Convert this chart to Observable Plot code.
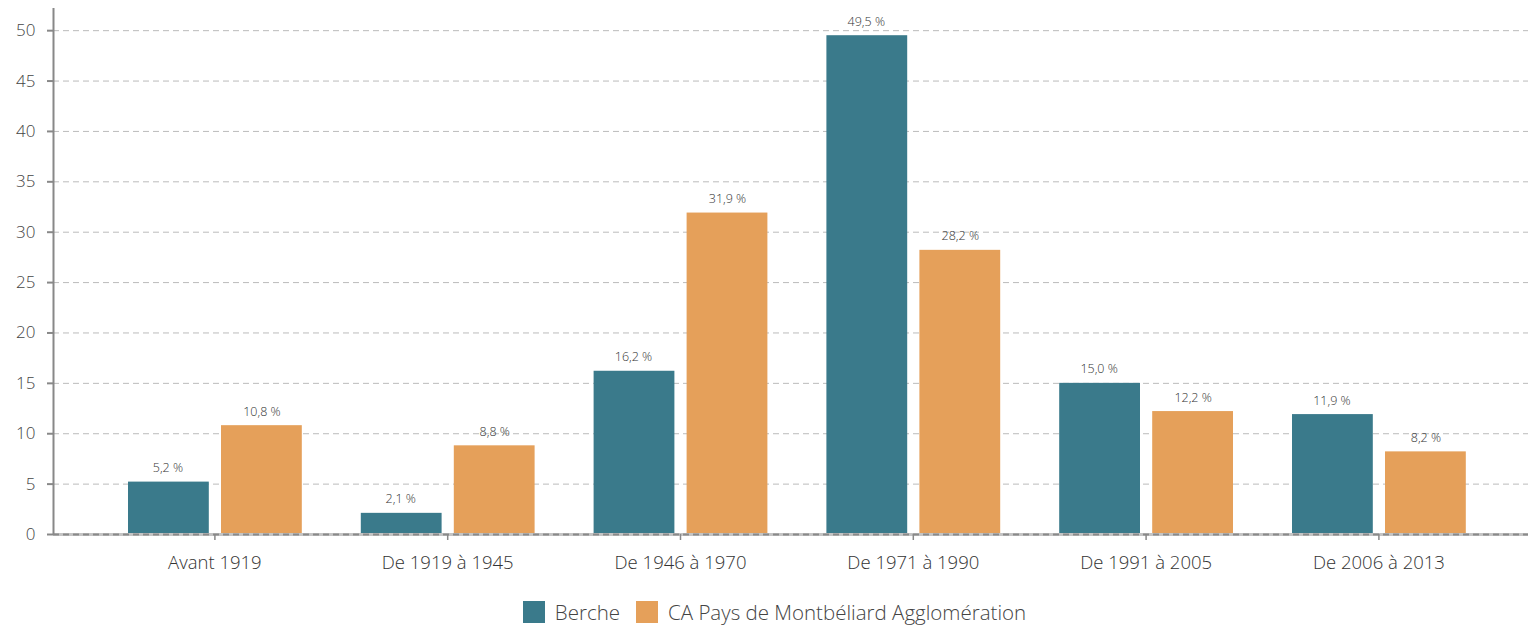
<!DOCTYPE html>
<html><head><meta charset="utf-8">
<script src="https://cdn.jsdelivr.net/npm/d3@7"></script>
<script src="https://cdn.jsdelivr.net/npm/@observablehq/plot@0.6"></script>
<style>
body{margin:0;background:#fff;font-family:"Open Sans",sans-serif;}
#legend{display:flex;justify-content:center;align-items:center;height:44px;margin-top:10px;padding-left:21px;font-size:20.5px;line-height:1.1;color:#444;font-weight:300;}
.sw{display:inline-block;width:22px;height:22px;margin-right:10px;}
.item{display:flex;align-items:center;margin:0 8px;}
</style></head><body><div id="chart"></div><div id="legend"></div>
<script>
const periods = ["Avant 1919","De 1919 à 1945","De 1946 à 1970","De 1971 à 1990","De 1991 à 2005","De 2006 à 2013"];
const berche = [5.2,2.1,16.2,49.5,15.0,11.9];
const capma = [10.8,8.8,31.9,28.2,12.2,8.2];
const seriesNames = ["Berche","CA Pays de Montbéliard Agglomération"];
const colors = ["#3a7a8b","#e5a05a"];
const yTicks = [0,5,10,15,20,25,30,35,40,45,50];

const fmt = v => d3.format(".1f")(v).replace(".", ",") + " %";
const dB = periods.map((p,i)=>({period:p, value:berche[i]}));
const dC = periods.map((p,i)=>({period:p, value:capma[i]}));

const chart = Plot.plot({
  width:1528, height:580,
  marginLeft:53, marginRight:0, marginTop:8, marginBottom:46,
  style:{fontFamily:"'Open Sans', sans-serif", background:"#fff", fontWeight:300},
  x:{domain:periods, range:[98,1494.8], padding:0, round:false},
  y:{domain:[0,52.2]},
  marks:[
    Plot.gridY(yTicks.filter(d=>d>0), {stroke:"#bbb", strokeOpacity:1, strokeDasharray:"6,4"}),
    Plot.barY(dB, {x:"period", y:"value", fill:colors[0], insetLeft:30, insetRight:122}),
    Plot.barY(dC, {x:"period", y:"value", fill:colors[1], insetLeft:123, insetRight:29}),
    Plot.text(dB, {x:"period", y:"value", text:d=>fmt(d.value), dx:-47, dy:-10, lineAnchor:"bottom", fontSize:12.5, fill:"#333"}),
    Plot.text(dC, {x:"period", y:"value", text:d=>fmt(d.value), dx:47, dy:-10, lineAnchor:"bottom", fontSize:12.5, fill:"#333"}),
    Plot.ruleY([0], {stroke:"#c4c4c4", strokeWidth:3}),
    Plot.ruleY([0], {stroke:"#8a8a8a", strokeWidth:2, strokeDasharray:"6,4"}),
    Plot.ruleX([periods[0]], {stroke:"#888", strokeWidth:2, dx:-161.4}),
    Plot.axisY(yTicks, {tickSize:6, tickPadding:12, stroke:"#888", strokeWidth:2, fontSize:17, fill:"#444", label:null}),
    Plot.axisX({tickSize:6, tickPadding:15, stroke:"#888", strokeWidth:1.5, fontSize:18.5, fill:"#333", label:null})
  ]
});
document.getElementById("chart").appendChild(chart);

const lg = document.getElementById("legend");
seriesNames.forEach((n,i)=>{
  const it = document.createElement("span"); it.className="item";
  const sw = document.createElement("span"); sw.className="sw"; sw.style.background=colors[i];
  it.appendChild(sw); it.appendChild(document.createTextNode(n)); lg.appendChild(it);
});
</script></body></html>
